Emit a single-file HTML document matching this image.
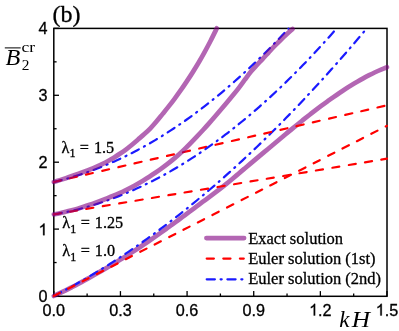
<!DOCTYPE html>
<html><head><meta charset="utf-8">
<style>
html,body{margin:0;padding:0;background:#fff;}
body{width:399px;height:331px;overflow:hidden;position:relative;font-family:"Liberation Sans",sans-serif;}
svg{position:absolute;left:0;top:0;}
text{fill:#000;}
svg{will-change:transform;}
.sans{font-family:"Liberation Sans",sans-serif;stroke:#000;stroke-width:0.3px;}
.serif{font-family:"Liberation Serif",serif;stroke:#000;stroke-width:0.3px;}
.cm{font-family:"Liberation Serif",serif;}
</style></head><body>
<svg width="399" height="331" viewBox="0 0 399 331">
<rect x="0" y="0" width="399" height="331" fill="#fff"/>
<!-- frame -->
<rect x="53.8" y="28.4" width="333.2" height="267.90000000000003" fill="none" stroke="#000" stroke-width="1.5"/>
<!-- ticks -->
<g stroke="#000" stroke-width="1.3">
<line x1="53.80" y1="296.3" x2="53.80" y2="291.1"/>
<line x1="87.12" y1="296.3" x2="87.12" y2="293.5"/>
<line x1="120.44" y1="296.3" x2="120.44" y2="291.1"/>
<line x1="153.76" y1="296.3" x2="153.76" y2="293.5"/>
<line x1="187.08" y1="296.3" x2="187.08" y2="291.1"/>
<line x1="220.40" y1="296.3" x2="220.40" y2="293.5"/>
<line x1="253.72" y1="296.3" x2="253.72" y2="291.1"/>
<line x1="287.04" y1="296.3" x2="287.04" y2="293.5"/>
<line x1="320.36" y1="296.3" x2="320.36" y2="291.1"/>
<line x1="353.68" y1="296.3" x2="353.68" y2="293.5"/>
<line x1="387.00" y1="296.3" x2="387.00" y2="291.1"/>
<line x1="53.8" y1="296.00" x2="59.0" y2="296.00"/>
<line x1="53.8" y1="262.55" x2="56.599999999999994" y2="262.55"/>
<line x1="53.8" y1="229.10" x2="59.0" y2="229.10"/>
<line x1="53.8" y1="195.65" x2="56.599999999999994" y2="195.65"/>
<line x1="53.8" y1="162.20" x2="59.0" y2="162.20"/>
<line x1="53.8" y1="128.75" x2="56.599999999999994" y2="128.75"/>
<line x1="53.8" y1="95.30" x2="59.0" y2="95.30"/>
<line x1="53.8" y1="61.85" x2="56.599999999999994" y2="61.85"/>
<line x1="53.8" y1="28.40" x2="59.0" y2="28.40"/>
</g>
<!-- curves -->
<path fill="none" stroke="rgb(128,0,128)" stroke-opacity="0.6" stroke-width="4.7" stroke-linecap="round" d="M53.80,296.00 C54.79,295.53 57.77,294.16 59.75,293.21 C61.73,292.26 63.72,291.30 65.70,290.32 C67.68,289.34 69.67,288.34 71.65,287.33 C73.63,286.31 75.62,285.29 77.60,284.23 C79.58,283.18 81.57,282.10 83.55,281.02 C85.53,279.93 87.52,278.81 89.50,277.70 C91.48,276.58 93.47,275.45 95.45,274.31 C97.43,273.18 99.42,272.04 101.40,270.89 C103.38,269.75 105.37,268.60 107.35,267.44 C109.33,266.28 111.32,265.12 113.30,263.93 C115.28,262.75 117.27,261.56 119.25,260.35 C121.23,259.14 123.22,257.92 125.20,256.67 C127.18,255.43 129.17,254.17 131.15,252.89 C133.13,251.61 135.12,250.31 137.10,249.00 C139.08,247.69 141.07,246.36 143.05,245.02 C145.03,243.69 147.02,242.34 149.00,240.98 C150.98,239.63 152.97,238.26 154.95,236.87 C156.93,235.49 158.92,234.09 160.90,232.67 C162.88,231.26 164.87,229.84 166.85,228.41 C168.83,226.98 170.82,225.54 172.80,224.10 C174.78,222.66 176.77,221.21 178.75,219.76 C180.73,218.30 182.72,216.83 184.70,215.36 C186.68,213.89 188.67,212.41 190.65,210.92 C192.63,209.44 194.62,207.95 196.60,206.46 C198.58,204.97 200.57,203.47 202.55,201.99 C204.53,200.50 206.52,199.03 208.50,197.54 C210.48,196.05 212.47,194.57 214.45,193.07 C216.43,191.56 218.42,190.05 220.40,188.51 C222.38,186.97 224.37,185.41 226.35,183.82 C228.33,182.22 230.32,180.59 232.30,178.94 C234.28,177.30 236.27,175.62 238.25,173.94 C240.23,172.26 242.22,170.57 244.20,168.89 C246.18,167.21 248.17,165.54 250.15,163.87 C252.13,162.21 254.12,160.56 256.10,158.90 C258.08,157.24 260.07,155.57 262.05,153.91 C264.03,152.25 266.02,150.59 268.00,148.94 C269.98,147.28 271.97,145.63 273.95,143.97 C275.93,142.32 277.92,140.67 279.90,139.01 C281.88,137.35 283.87,135.68 285.85,134.03 C287.83,132.37 289.82,130.71 291.80,129.08 C293.78,127.44 295.77,125.81 297.75,124.21 C299.73,122.60 301.72,121.03 303.70,119.45 C305.68,117.87 307.67,116.30 309.65,114.74 C311.63,113.19 313.62,111.64 315.60,110.12 C317.58,108.60 319.57,107.10 321.55,105.63 C323.53,104.16 325.52,102.72 327.50,101.30 C329.48,99.87 331.47,98.45 333.45,97.06 C335.43,95.67 337.42,94.29 339.40,92.95 C341.38,91.61 343.37,90.29 345.35,89.01 C347.33,87.74 349.32,86.52 351.30,85.31 C353.28,84.10 355.27,82.92 357.25,81.77 C359.23,80.62 361.22,79.48 363.20,78.39 C365.18,77.29 367.17,76.22 369.15,75.20 C371.13,74.18 373.12,73.19 375.10,72.25 C377.08,71.32 379.07,70.44 381.05,69.59 C383.03,68.75 386.01,67.60 387.00,67.20"/>
<path fill="none" stroke="#1a1aff" stroke-width="2.2" stroke-linecap="round" stroke-dasharray="8.2,5.75,1.1,5.75" d="M53.80,296.00 C55.05,295.35 58.67,293.50 61.32,292.10 C63.96,290.70 67.02,289.06 69.67,287.62 C72.31,286.18 74.54,284.94 77.18,283.45 C79.83,281.97 82.75,280.30 85.53,278.68 C88.32,277.07 91.24,275.34 93.88,273.76 C96.53,272.18 98.76,270.82 101.40,269.19 C104.04,267.56 107.11,265.65 109.75,263.98 C112.40,262.30 114.62,260.87 117.27,259.15 C119.91,257.43 122.83,255.50 125.62,253.64 C128.40,251.78 131.32,249.79 133.97,247.98 C136.61,246.16 138.84,244.61 141.48,242.75 C144.13,240.89 147.05,238.81 149.84,236.80 C152.62,234.79 155.54,232.64 158.19,230.69 C160.83,228.73 163.06,227.06 165.70,225.06 C168.35,223.06 171.41,220.71 174.05,218.66 C176.70,216.61 178.92,214.87 181.57,212.77 C184.21,210.67 187.14,208.34 189.92,206.08 C192.70,203.82 195.63,201.42 198.27,199.24 C200.91,197.05 203.14,195.18 205.79,192.94 C208.43,190.71 211.49,188.09 214.14,185.81 C216.78,183.53 219.01,181.59 221.65,179.26 C224.30,176.93 227.22,174.33 230.00,171.83 C232.79,169.33 235.71,166.67 238.35,164.25 C241.00,161.82 243.23,159.76 245.87,157.29 C248.51,154.82 251.44,152.07 254.22,149.42 C257.00,146.77 259.93,143.96 262.57,141.39 C265.22,138.83 267.44,136.65 270.09,134.04 C272.73,131.43 275.79,128.38 278.44,125.72 C281.08,123.07 283.31,120.81 285.95,118.10 C288.60,115.40 291.52,112.39 294.31,109.50 C297.09,106.60 300.01,103.53 302.66,100.73 C305.30,97.94 307.53,95.56 310.17,92.71 C312.82,89.87 315.88,86.55 318.52,83.66 C321.17,80.77 323.39,78.32 326.04,75.38 C328.68,72.44 331.61,69.18 334.39,66.03 C337.17,62.89 340.10,59.56 342.74,56.53 C345.38,53.50 347.61,50.93 350.26,47.85 C352.90,44.78 355.82,41.35 358.61,38.06 C361.39,34.77 365.57,29.78 366.96,28.12"/>
<path fill="none" stroke="#ff0000" stroke-width="2.2" stroke-linecap="round" stroke-dasharray="7.0,9.2" d="M53.80,296.00 C109.33,267.63 331.47,154.17 387.00,125.80"/>
<path fill="none" stroke="#1a1aff" stroke-width="2.2" stroke-linecap="round" stroke-dasharray="8.2,5.75,1.1,5.75" d="M53.80,182.00 C54.77,181.77 57.70,181.08 59.65,180.59 C61.59,180.10 63.54,179.59 65.49,179.06 C67.44,178.53 69.39,177.98 71.34,177.41 C73.29,176.84 75.09,176.29 77.18,175.63 C79.27,174.97 81.78,174.15 83.86,173.45 C85.95,172.75 87.76,172.11 89.71,171.41 C91.66,170.71 93.61,169.99 95.55,169.24 C97.50,168.50 99.45,167.74 101.40,166.96 C103.35,166.17 105.16,165.43 107.25,164.55 C109.33,163.66 111.84,162.57 113.93,161.64 C116.01,160.71 117.82,159.88 119.77,158.96 C121.72,158.05 123.67,157.12 125.62,156.17 C127.57,155.21 129.51,154.24 131.46,153.24 C133.41,152.25 135.22,151.31 137.31,150.20 C139.40,149.09 141.90,147.72 143.99,146.57 C146.08,145.41 147.89,144.38 149.84,143.26 C151.78,142.13 153.73,140.99 155.68,139.83 C157.63,138.66 159.58,137.48 161.53,136.27 C163.47,135.06 165.28,133.93 167.37,132.59 C169.46,131.25 171.96,129.62 174.05,128.24 C176.14,126.85 177.95,125.63 179.90,124.29 C181.85,122.96 183.80,121.60 185.74,120.23 C187.69,118.85 189.64,117.45 191.59,116.04 C193.54,114.62 195.35,113.29 197.44,111.72 C199.52,110.16 202.03,108.25 204.12,106.64 C206.20,105.03 208.01,103.61 209.96,102.07 C211.91,100.52 213.86,98.95 215.81,97.37 C217.76,95.78 219.70,94.17 221.65,92.54 C223.60,90.92 225.41,89.39 227.50,87.60 C229.59,85.80 232.09,83.63 234.18,81.79 C236.27,79.96 238.08,78.34 240.02,76.58 C241.97,74.82 243.92,73.05 245.87,71.25 C247.82,69.45 249.77,67.63 251.72,65.79 C253.66,63.95 255.47,62.23 257.56,60.21 C259.65,58.19 262.15,55.74 264.24,53.68 C266.33,51.62 268.14,49.80 270.09,47.83 C272.04,45.87 273.98,43.88 275.93,41.87 C277.88,39.86 279.69,37.98 281.78,35.78 C283.87,33.57 287.35,29.85 288.46,28.66"/>
<path fill="none" stroke="#ff0000" stroke-width="2.2" stroke-linecap="round" stroke-dasharray="7.2,9.4" d="M53.80,182.00 C109.33,169.22 331.47,118.08 387.00,105.30"/>
<path fill="none" stroke="#1a1aff" stroke-width="2.2" stroke-linecap="round" stroke-dasharray="8.2,5.75,1.1,5.75" d="M53.80,214.40 C54.91,214.20 58.11,213.66 60.48,213.20 C62.85,212.75 65.49,212.22 68.00,211.67 C70.50,211.13 73.15,210.52 75.51,209.95 C77.88,209.38 79.83,208.88 82.19,208.25 C84.56,207.62 87.20,206.88 89.71,206.15 C92.21,205.42 94.86,204.61 97.22,203.86 C99.59,203.11 101.54,202.47 103.91,201.66 C106.27,200.85 108.92,199.92 111.42,199.00 C113.93,198.08 116.57,197.07 118.94,196.14 C121.30,195.21 123.25,194.42 125.62,193.44 C127.98,192.45 130.63,191.32 133.13,190.21 C135.64,189.10 138.28,187.89 140.65,186.79 C143.02,185.68 144.96,184.75 147.33,183.58 C149.70,182.41 152.34,181.08 154.85,179.79 C157.35,178.49 159.86,177.16 162.36,175.80 C164.87,174.44 167.51,172.96 169.88,171.61 C172.24,170.27 174.19,169.14 176.56,167.73 C178.92,166.32 181.57,164.73 184.07,163.18 C186.58,161.63 189.22,159.95 191.59,158.43 C193.96,156.90 195.90,155.62 198.27,154.04 C200.64,152.46 203.28,150.66 205.79,148.92 C208.29,147.18 210.94,145.31 213.30,143.61 C215.67,141.91 217.62,140.48 219.98,138.72 C222.35,136.95 224.99,134.96 227.50,133.03 C230.00,131.10 232.65,129.03 235.01,127.15 C237.38,125.27 239.33,123.70 241.69,121.76 C244.06,119.82 246.71,117.63 249.21,115.51 C251.72,113.39 254.22,111.24 256.73,109.06 C259.23,106.88 261.88,104.54 264.24,102.42 C266.61,100.30 268.56,98.53 270.92,96.35 C273.29,94.17 275.93,91.71 278.44,89.34 C280.94,86.97 283.59,84.43 285.95,82.13 C288.32,79.84 290.27,77.92 292.64,75.56 C295.00,73.20 297.65,70.54 300.15,67.99 C302.66,65.43 305.30,62.69 307.67,60.21 C310.03,57.74 311.98,55.67 314.35,53.14 C316.71,50.60 319.36,47.74 321.86,45.00 C324.37,42.25 326.87,39.47 329.38,36.66 C331.88,33.85 335.64,29.55 336.89,28.12"/>
<path fill="none" stroke="#ff0000" stroke-width="2.2" stroke-linecap="round" stroke-dasharray="7.2,9.4" d="M53.80,214.40 C109.33,205.10 331.47,167.90 387.00,158.60"/>
<path fill="none" stroke="rgb(128,0,128)" stroke-opacity="0.6" stroke-width="4.7" stroke-linecap="round" d="M53.80,214.40 C54.79,214.20 57.78,213.61 59.77,213.17 C61.76,212.74 63.75,212.28 65.74,211.80 C67.73,211.32 69.72,210.81 71.71,210.29 C73.70,209.76 75.69,209.22 77.68,208.64 C79.67,208.06 81.66,207.45 83.65,206.82 C85.64,206.18 87.63,205.51 89.62,204.83 C91.61,204.15 93.60,203.44 95.59,202.72 C97.58,202.00 99.57,201.27 101.56,200.52 C103.55,199.77 105.54,199.01 107.53,198.22 C109.52,197.43 111.51,196.63 113.50,195.79 C115.49,194.95 117.48,194.09 119.47,193.19 C121.46,192.29 123.45,191.36 125.44,190.39 C127.43,189.41 129.42,188.39 131.41,187.33 C133.40,186.27 135.39,185.16 137.38,184.02 C139.37,182.87 141.36,181.69 143.35,180.47 C145.34,179.26 147.33,178.02 149.32,176.74 C151.31,175.46 153.30,174.16 155.29,172.80 C157.28,171.45 159.27,170.06 161.26,168.62 C163.25,167.18 165.24,165.70 167.23,164.16 C169.22,162.63 171.21,161.05 173.20,159.40 C175.19,157.75 177.18,156.05 179.17,154.25 C181.16,152.45 183.15,150.55 185.14,148.61 C187.13,146.67 189.12,144.64 191.11,142.60 C193.10,140.57 195.09,138.48 197.08,136.38 C199.07,134.29 201.06,132.19 203.05,130.03 C205.04,127.87 207.03,125.66 209.02,123.41 C211.01,121.17 213.00,118.87 214.99,116.56 C216.98,114.25 218.97,111.91 220.96,109.57 C222.95,107.23 224.94,104.89 226.93,102.51 C228.92,100.14 230.91,97.77 232.90,95.32 C234.89,92.88 236.88,90.43 238.87,87.83 C240.86,85.23 242.85,82.39 244.84,79.72 C246.83,77.05 248.82,74.27 250.81,71.84 C252.80,69.40 254.79,67.28 256.78,65.12 C258.77,62.95 260.76,61.00 262.75,58.87 C264.74,56.73 266.73,54.47 268.72,52.31 C270.71,50.15 272.70,47.97 274.69,45.92 C276.68,43.86 278.67,41.91 280.66,39.98 C282.65,38.04 284.64,36.15 286.63,34.32 C288.62,32.49 291.61,29.89 292.60,29.00"/>
<path fill="none" stroke="rgb(128,0,128)" stroke-opacity="0.6" stroke-width="4.7" stroke-linecap="round" d="M53.80,182.00 C54.81,181.69 57.82,180.77 59.84,180.13 C61.85,179.49 63.86,178.83 65.87,178.16 C67.89,177.49 69.90,176.79 71.91,176.09 C73.92,175.39 75.94,174.67 77.95,173.94 C79.96,173.22 81.97,172.50 83.99,171.75 C86.00,171.00 88.01,170.25 90.02,169.45 C92.03,168.65 94.05,167.83 96.06,166.96 C98.07,166.08 100.08,165.19 102.10,164.20 C104.11,163.20 106.12,162.11 108.13,160.98 C110.15,159.86 112.16,158.68 114.17,157.44 C116.18,156.21 118.20,154.93 120.21,153.56 C122.22,152.20 124.23,150.80 126.24,149.28 C128.26,147.75 130.27,146.10 132.28,144.44 C134.29,142.78 136.31,141.03 138.32,139.30 C140.33,137.58 142.34,135.92 144.36,134.09 C146.37,132.27 148.38,130.44 150.39,128.35 C152.40,126.25 154.42,123.89 156.43,121.52 C158.44,119.16 160.45,116.62 162.47,114.14 C164.48,111.66 166.49,109.21 168.50,106.66 C170.52,104.11 172.53,101.52 174.54,98.82 C176.55,96.12 178.57,93.33 180.58,90.47 C182.59,87.60 184.60,84.65 186.61,81.63 C188.63,78.62 190.64,75.56 192.65,72.38 C194.66,69.20 196.68,65.96 198.69,62.55 C200.70,59.13 202.71,55.57 204.73,51.89 C206.74,48.21 208.75,44.40 210.76,40.47 C212.78,36.54 215.79,30.33 216.80,28.30"/>
<g class="sans" font-size="16.2" text-anchor="middle">
<text x="53.80" y="315.5">0.0</text>
<text x="120.44" y="315.5">0.3</text>
<text x="187.08" y="315.5">0.6</text>
<text x="253.72" y="315.5">0.9</text>
<path d="M763 0H583V1147Q518 1085 412.5 1023Q307 961 223 930V1104Q374 1175 487 1276Q600 1377 647 1472H763Z" fill="#000" stroke="#000" stroke-width="38" transform="translate(309.10,315.50) scale(0.007910,-0.007910)"/>
<text x="318.11" y="315.5" text-anchor="start">.2</text>
<path d="M763 0H583V1147Q518 1085 412.5 1023Q307 961 223 930V1104Q374 1175 487 1276Q600 1377 647 1472H763Z" fill="#000" stroke="#000" stroke-width="38" transform="translate(375.74,315.50) scale(0.007910,-0.007910)"/>
<text x="384.75" y="315.5" text-anchor="start">.5</text>
</g>
<g class="sans" font-size="16.2" text-anchor="end">
<text x="47.5" y="301.60">0</text>
<path d="M763 0H583V1147Q518 1085 412.5 1023Q307 961 223 930V1104Q374 1175 487 1276Q600 1377 647 1472H763Z" fill="#000" stroke="#000" stroke-width="38" transform="translate(38.49,235.20) scale(0.007910,-0.007910)"/>
<text x="47.5" y="167.80">2</text>
<text x="47.5" y="100.90">3</text>
<text x="47.5" y="33.50">4</text>
</g>

<text class="serif" x="52.6" y="21.8" font-size="24">(b)</text>
<!-- y label -->
<text class="cm" transform="translate(5.5,64.6) scale(1.08,1)" font-size="22.4" font-style="italic">B</text>
<line x1="4.8" y1="47.9" x2="20.7" y2="47.9" stroke="#000" stroke-width="1"/>
<text class="cm" transform="translate(21.7,69.7) scale(1.1,1)" font-size="14">2</text>
<text class="cm" transform="translate(21.6,52) scale(1.2,1)" font-size="14.5">cr</text>
<!-- x label -->
<text class="cm" x="339.3" y="327.4" font-size="23" font-style="italic">k</text>
<text class="cm" transform="translate(351.7,327.4) scale(1.1,1)" font-size="23" font-style="italic">H</text>
<!-- lambda labels -->
<g class="serif" font-size="16.2">
<text x="61.4" y="152.6">λ<tspan font-size="12" dx="0.2" dy="4.6">1</tspan><tspan dy="-4.6" dx="0.3"> =</tspan><tspan dx="0.9"> 1.5</tspan></text>
<text x="62.3" y="228.2">λ<tspan font-size="12" dx="0.2" dy="4.6">1</tspan><tspan dy="-4.6" dx="0.3"> =</tspan><tspan dx="0.9"> 1.25</tspan></text>
<text x="62.3" y="256">λ<tspan font-size="12" dx="0.2" dy="4.6">1</tspan><tspan dy="-4.6" dx="0.3"> =</tspan><tspan dx="0.9"> 1.0</tspan></text>
</g>
<!-- legend -->
<line x1="206.4" y1="238.1" x2="244.1" y2="238.1" stroke="rgb(128,0,128)" stroke-opacity="0.6" stroke-width="4.7" stroke-linecap="round"/>
<line x1="206.7" y1="258.6" x2="243.8" y2="258.6" stroke="#ff0000" stroke-width="2.2" stroke-linecap="round" stroke-dasharray="7.2,9.4"/>
<line x1="206.7" y1="279.3" x2="242.5" y2="279.3" stroke="#1a1aff" stroke-width="2.2" stroke-linecap="round" stroke-dasharray="8.2,5.7,1.1,5.7"/>
<g class="serif" font-size="16.5">
<text x="248.2" y="243.8">Exact solution</text>
<text x="248.2" y="263.8">Euler solution (1st)</text>
<text x="248.2" y="283.9">Euler solution (2nd)</text>
</g>
</svg>
</body></html>
